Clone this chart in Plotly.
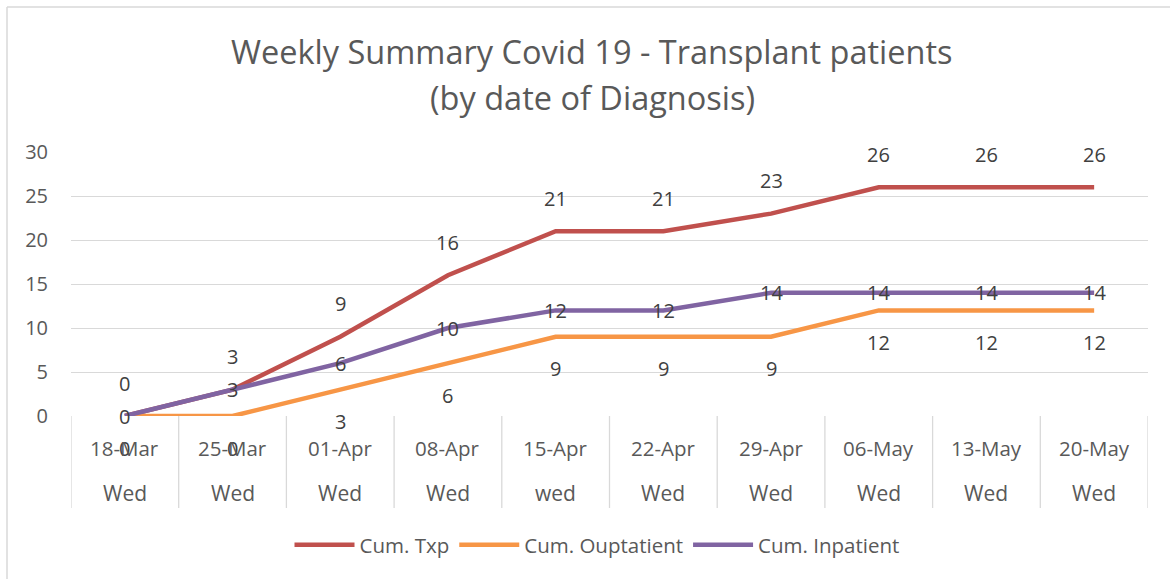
import plotly.graph_objects as go

dates = ["18-Mar", "25-Mar", "01-Apr", "08-Apr", "15-Apr", "22-Apr", "29-Apr", "06-May", "13-May", "20-May"]
weekdays = ["Wed", "Wed", "Wed", "Wed", "wed", "Wed", "Wed", "Wed", "Wed", "Wed"]
cum_txp = [0, 3, 9, 16, 21, 21, 23, 26, 26, 26]
cum_outpatient = [0, 0, 3, 6, 9, 9, 9, 12, 12, 12]
cum_inpatient = [0, 3, 6, 10, 12, 12, 14, 14, 14, 14]
title_lines = ["Weekly Summary Covid 19 - Transplant patients", "(by date of Diagnosis)"]

series = [
    ("Cum. Txp", cum_txp, "#C0504D", 33),
    ("Cum. Ouptatient", cum_outpatient, "#F79646", -32),
    ("Cum. Inpatient", cum_inpatient, "#8064A2", 0),
]

FONT = "Open Sans"
GREY = "#595959"
xs = list(range(len(dates)))

PLOT_TOP, PLOT_BOTTOM, PLOT_LEFT, PLOT_RIGHT = 152, 416, 71, 1148
plot_h = PLOT_BOTTOM - PLOT_TOP
plot_w = PLOT_RIGHT - PLOT_LEFT

def py(pix):
    return (PLOT_BOTTOM - pix) / plot_h

def px(pix):
    return (pix - PLOT_LEFT) / plot_w

fig = go.Figure()
annotations = []
for name, vals, color, shift in series:
    fig.add_trace(go.Scatter(x=xs, y=vals, mode="lines", name=name,
                             line=dict(color=color, width=4.5)))
for name, vals, color, shift in series:
    for x, v in zip(xs, vals):
        annotations.append(dict(x=x, y=v, xref="x", yref="y", text=str(v), showarrow=False,
                                yshift=shift, borderpad=0,
                                font=dict(family=FONT, size=20, color="#404040")))

for x, d, w in zip(xs, dates, weekdays):
    annotations.append(dict(x=x, y=py(448), xref="x", yref="paper", text=d, showarrow=False,
                            yanchor="middle", borderpad=0,
                            font=dict(family=FONT, size=20.5, color=GREY)))
    annotations.append(dict(x=x, y=py(493), xref="x", yref="paper", text=w, showarrow=False,
                            yanchor="middle", borderpad=0,
                            font=dict(family=FONT, size=21, color=GREY)))

for line, ypix in zip(title_lines, [52, 97]):
    annotations.append(dict(x=px(592), y=py(ypix), xref="paper", yref="paper", text=line,
                            showarrow=False, xanchor="center", yanchor="middle", borderpad=0,
                            font=dict(family=FONT, size=32.5, color=GREY)))

shapes = []
for i in range(len(dates) + 1):
    shapes.append(dict(type="line", xref="x", yref="paper", x0=i - 0.5, x1=i - 0.5,
                       y0=0, y1=py(508), line=dict(color="#d9d9d9", width=1.3)))
# outer chart border (left and top edges visible)
shapes.append(dict(type="line", xref="paper", yref="paper", x0=px(7), x1=px(7),
                   y0=py(7), y1=py(600), line=dict(color="#d9d9d9", width=1.5)))
shapes.append(dict(type="line", xref="paper", yref="paper", x0=px(7), x1=px(1200),
                   y0=py(7), y1=py(7), line=dict(color="#d9d9d9", width=1.5)))

fig.update_layout(
    width=1170, height=579,
    margin=dict(l=PLOT_LEFT, r=1170 - PLOT_RIGHT, t=PLOT_TOP, b=579 - PLOT_BOTTOM),
    paper_bgcolor="white", plot_bgcolor="white",
    xaxis=dict(range=[-0.5, len(dates) - 0.5], showticklabels=False, showgrid=False,
               zeroline=False, showline=False, fixedrange=True),
    yaxis=dict(range=[0, 30], tickvals=[0, 5, 10, 15, 20, 25, 30], showgrid=True,
               gridcolor="#d9d9d9", gridwidth=1.3, zeroline=False, showline=False,
               tickfont=dict(family=FONT, size=20, color=GREY), ticks="", ticklen=0,
               ticklabelstandoff=22),
    legend=dict(orientation="h", x=px(597), xanchor="center", y=py(545), yanchor="middle",
                font=dict(family=FONT, size=20.5, color=GREY), itemwidth=60),
    annotations=annotations, shapes=shapes,
    showlegend=True,
)
fig.write_html("out.html", post_script="document.body.style.margin='0';",
               config={"displayModeBar": False})
